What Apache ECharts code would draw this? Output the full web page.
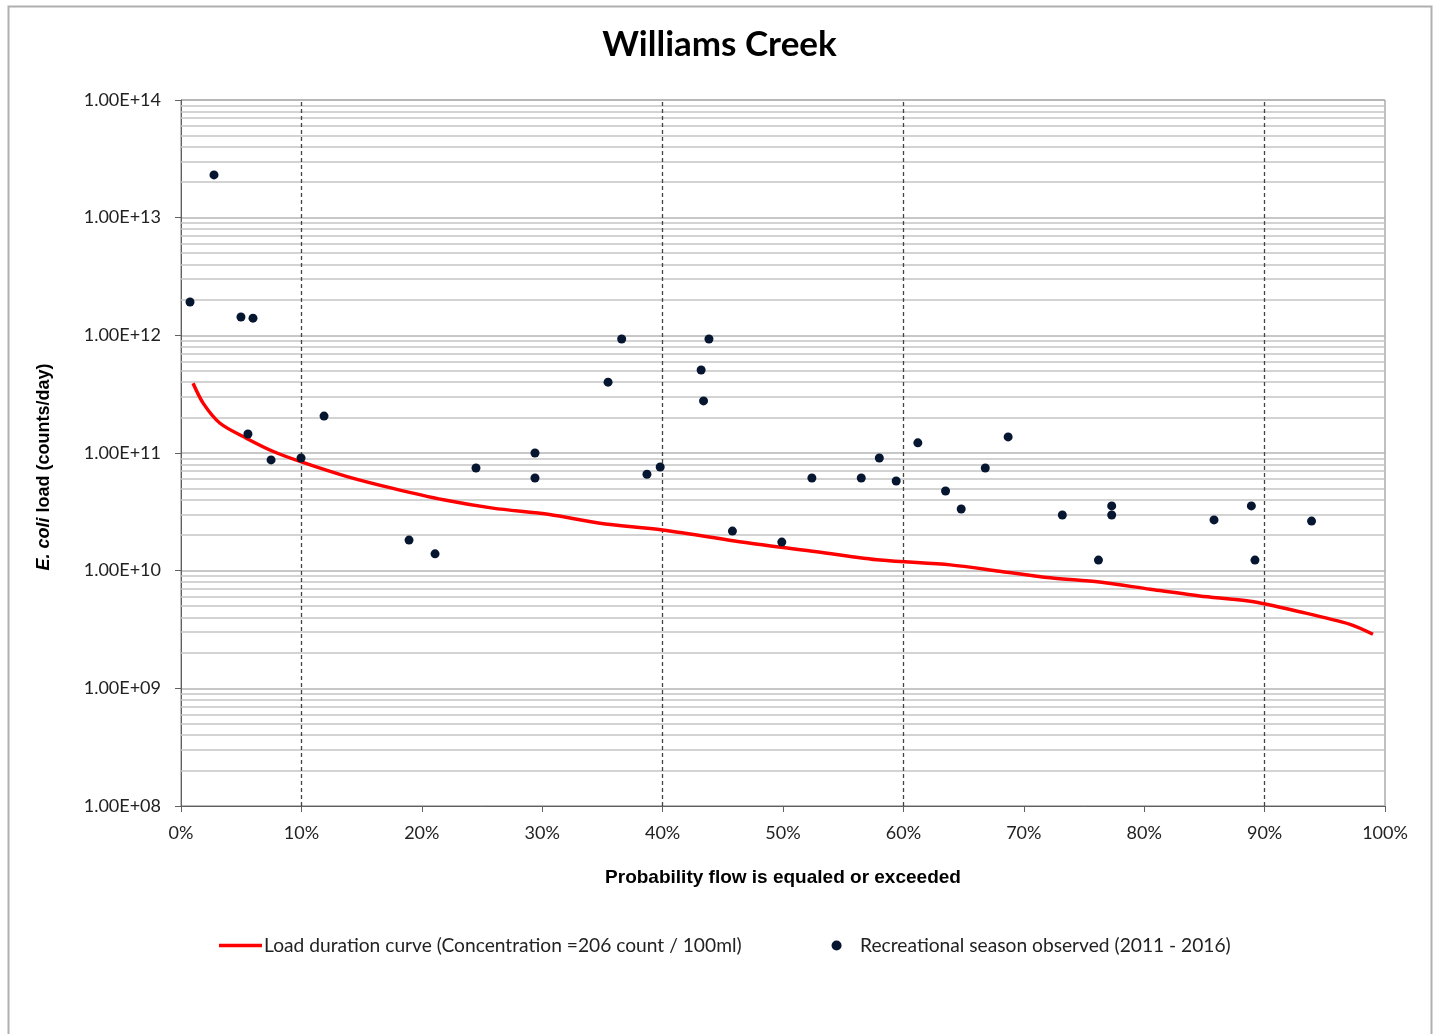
<!DOCTYPE html>
<html>
<head>
<meta charset="utf-8">
<script src="https://cdn.jsdelivr.net/npm/echarts@6/dist/echarts.min.js"></script>
<style>
html,body{margin:0;padding:0;background:#fff;}
#c{width:1439px;height:1034px;}
</style>
</head>
<body>
<div id="c"></div>
<script>
// Load duration curve: [exceedance %, load (counts/day)]
const curveX = [1, 1.85, 3.24, 5.46, 7.67, 10, 13.8, 17.6, 21.8, 25.9, 30.6, 34.8, 40, 47.3, 52.8, 58.1, 63.9, 68, 72.2, 76.3, 80.5, 84.6, 88.8, 92.9, 97.1, 99];
const curveY = [3.91e11, 2.64e11, 1.79e11, 1.33e11, 1.03e11, 8.4e10, 6.3e10, 5.0e10, 4.0e10, 3.4e10, 3.0e10, 2.53e10, 2.22e10, 1.71e10, 1.45e10, 1.23e10, 1.12e10, 9.9e9, 8.7e9, 8.0e9, 6.95e9, 6.1e9, 5.5e9, 4.48e9, 3.5e9, 2.88e9];

// Observed recreational-season samples
const obsX = [0.75, 2.74, 4.98, 5.98, 5.56, 7.48, 9.97, 11.88, 18.94, 21.1, 24.5, 29.4, 29.4, 35.47, 36.6, 38.7, 39.8, 43.2, 43.4, 43.85, 45.8, 49.9, 52.4, 56.5, 58.0, 59.4, 61.2, 63.5, 64.8, 66.8, 68.7, 73.2, 76.2, 77.3, 77.3, 85.8, 88.9, 89.2, 93.9];
const obsY = [1.92e12, 2.31e13, 1.43e12, 1.40e12, 1.45e11, 8.73e10, 9.07e10, 2.06e11, 1.82e10, 1.39e10, 7.46e10, 1.0e11, 6.13e10, 4.0e11, 9.3e11, 6.6e10, 7.6e10, 5.07e11, 2.77e11, 9.3e11, 2.17e10, 1.75e10, 6.13e10, 6.13e10, 9.07e10, 5.78e10, 1.22e11, 4.75e10, 3.34e10, 7.46e10, 1.37e11, 2.97e10, 1.23e10, 3.55e10, 2.97e10, 2.70e10, 3.55e10, 1.23e10, 2.64e10];

// Flow-zone divisions (%)
const zoneLines = [10, 40, 60, 90];
// Decades for y axis
const yMin = 1e8, yMax = 1e14;

const minorVals = [];
for (let e = 8; e < 14; e++) {
  for (let m = 2; m <= 9; m++) minorVals.push(m * Math.pow(10, e));
}

const lineName = 'Load duration curve (Concentration =206 count / 100ml)';
const dotName = 'Recreational season observed (2011 - 2016)';

const chart = echarts.init(document.getElementById('c'));
const option = {
  backgroundColor: '#fff',
  animation: false,
  title: {
    text: 'Williams Creek',
    left: 'center', top: 22,
    textStyle: { fontFamily: 'Lato', fontWeight: 'bold', fontSize: 35, color: '#000' }
  },
  graphic: [{
    type: 'rect', left: 6, top: 4,
    shape: { width: 1423, height: 1060 },
    style: { fill: 'none', stroke: '#b0b0b0', lineWidth: 2 },
    silent: true, z: -10
  }],
  grid: { left: 181, top: 100, right: 54, bottom: 228, show: true, borderColor: '#808080', borderWidth: 1 },
  legend: {
    left: 214, top: 931,
    itemGap: 90,
    itemWidth: 43, itemHeight: 10,
    textStyle: { fontFamily: 'Lato', fontSize: 19.2, color: '#222', padding: [0, 0, 0, -3] },
    data: [
      { name: lineName, icon: 'path://M0,0 L43,0 L43,3.5 L0,3.5 Z' },
      { name: dotName, icon: 'circle' }
    ]
  },
  xAxis: {
    type: 'value', min: 0, max: 100, interval: 10,
    name: 'Probability flow is equaled or exceeded',
    nameLocation: 'middle', nameGap: 62,
    nameTextStyle: { fontFamily: 'Liberation Sans', fontWeight: 'bold', fontSize: 19, color: '#000' },
    axisLine: { lineStyle: { color: '#606060' } },
    axisTick: { show: true, length: 6, lineStyle: { color: '#606060' } },
    axisLabel: { formatter: '{value}%', fontFamily: 'Lato', fontSize: 18, color: '#222', margin: 18 },
    splitLine: { show: false }
  },
  yAxis: {
    type: 'log', logBase: 10, min: yMin, max: yMax,
    name: '{i|E. coli}{b| load (counts/day)}',
    nameLocation: 'middle', nameGap: 128, nameRotate: 90,
    nameTextStyle: {
      padding: [0, 28, 0, 0],
      rich: {
        i: { fontFamily: 'Liberation Sans', fontWeight: 'bold', fontStyle: 'italic', fontSize: 18, color: '#000' },
        b: { fontFamily: 'Liberation Sans', fontWeight: 'bold', fontSize: 18, color: '#000' }
      }
    },
    axisLine: { show: true, lineStyle: { color: '#606060' } },
    axisTick: { show: true, length: 6, lineStyle: { color: '#606060' } },
    axisLabel: {
      fontFamily: 'Lato', fontSize: 18, color: '#222', margin: 20,
      formatter: v => {
        const e = Math.round(Math.log10(v));
        return '1.00E+' + (e < 10 ? '0' + e : e);
      }
    },
    splitLine: { show: true, lineStyle: { color: '#b4b4b4', width: 1.5 } }
  },
  series: [
    {
      name: 'gridlines', type: 'scatter', data: [], silent: true, z: 1,
      markLine: {
        z: 1,
        silent: true, symbol: 'none', label: { show: false },
        lineStyle: { color: '#c4c4c4', width: 1.5, type: 'solid' },
        data: minorVals.map(v => ({ yAxis: v }))
      }
    },
    {
      name: 'zones', type: 'scatter', data: [], silent: true, z: 2,
      markLine: {
        z: 2,
        silent: true, symbol: 'none', label: { show: false },
        lineStyle: { color: '#444', width: 1.3, type: [4, 3] },
        data: zoneLines.map(v => ({ xAxis: v }))
      }
    },
    {
      name: lineName,
      type: 'line', symbol: 'none', smooth: 0.3, z: 8,
      lineStyle: { color: '#ff0000', width: 3.5 },
      itemStyle: { color: '#ff0000' },
      data: curveX.map((x, i) => [x, curveY[i]])
    },
    {
      name: dotName,
      type: 'scatter', symbol: 'circle', symbolSize: 9, z: 10,
      itemStyle: { color: '#061530', opacity: 1 },
      data: obsX.map((x, i) => [x, obsY[i]])
    }
  ]
};
chart.setOption(option);
</script>
</body>
</html>
